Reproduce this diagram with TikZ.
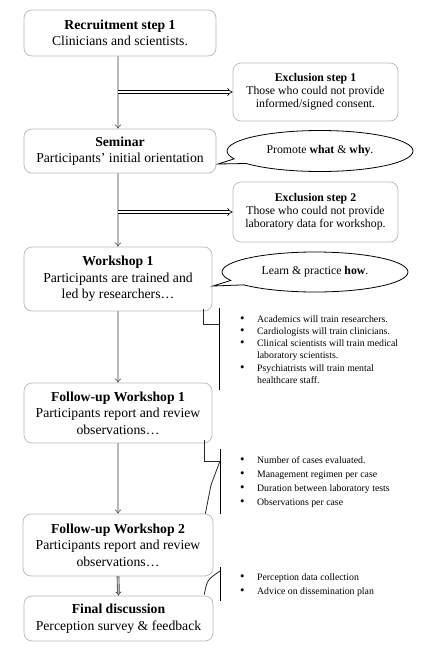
\documentclass[tikz,border=0pt]{standalone}
\usepackage{fontspec}
\setmainfont{Liberation Serif}
\usepackage{tikz}
\usetikzlibrary{arrows.meta,calc,shapes.callouts}
\newcommand{\bodyfont}{\fontsize{13.7}{16.5}\selectfont}
\newcommand{\notefont}{\fontsize{11.8}{13}\selectfont}
\newcommand{\listfont}{\fontsize{9.8}{12.2}\selectfont}
\newcommand{\listfontwide}{\fontsize{9.8}{14}\selectfont}
\newcommand{\dotitem}{\scalebox{1.3}{\textbullet}}
\tikzset{
  stepbox/.style={draw=gray!55,line width=0.7pt,rounded corners=8pt,align=center,font=\bodyfont,inner sep=1pt},
  exclbox/.style={stepbox,font=\notefont},
  downarrow/.style={draw=gray!45!black,double=gray!55,double distance=1.4pt,line width=0.6pt,-{Implies}},
  sidearrow/.style={draw=black,double=white,double distance=2.2pt,line width=0.6pt,-{Implies}},
  talk/.style={ellipse callout,draw,line width=0.8pt,font=\notefont,inner sep=0pt},
  bartick/.style={draw=gray!30!black,line width=0.8pt},
  bar/.style={draw=black,line width=0.8pt},
  bullets/.style={anchor=north west,inner sep=0pt}
}
\begin{document}
\begin{tikzpicture}[x=1pt,y=-1pt]
\useasboundingbox[fill=white] (0,0) rectangle (429,651);

% Main steps
\node[stepbox,minimum width=192,minimum height=46] (rec) at (120,33)
  {\textbf{Recruitment step 1}\\Clinicians and scientists.};
\node[stepbox,minimum width=192,minimum height=44] (sem) at (120,151)
  {\textbf{Seminar}\\Participants' initial orientation};
\node[stepbox,minimum width=188,minimum height=64] (ws1) at (118,279)
  {\textbf{Workshop 1}\\Participants are trained and\\led by researchers\ldots};
\node[stepbox,minimum width=188,minimum height=60] (fu1) at (118,413)
  {\textbf{Follow-up Workshop 1}\\Participants report and review\\observations\ldots};
\node[stepbox,minimum width=190,minimum height=62] (fu2) at (118,545)
  {\textbf{Follow-up Workshop 2}\\Participants report and review\\observations\ldots};
\node[stepbox,minimum width=189,minimum height=45] (fin) at (118.5,618.5)
  {\textbf{Final discussion}\\Perception survey \& feedback};

% Exclusions
\node[exclbox,minimum width=165,minimum height=58] (ex1) at (315.5,92)
  {\textbf{Exclusion step 1}\\Those who could not provide\\informed/signed consent.};
\node[exclbox,minimum width=165,minimum height=60] (ex2) at (315.5,212)
  {\textbf{Exclusion step 2}\\Those who could not provide\\laboratory data for workshop.};

% Flow
\draw[downarrow] (rec.south -| ws1) -- (sem.north -| ws1);
\draw[downarrow] (sem.south -| ws1) -- (ws1.north);
\draw[downarrow] (ws1.south) -- (fu1.north);
\draw[downarrow] (fu1.south) -- (fu2.north);
\draw[downarrow] (fu2.south) -- (fin.north);
\draw[sidearrow] (ex1.west -| ws1) -- (ex1.west);
\draw[sidearrow] (ex2.west -| ws1) -- (ex2.west);

% Callouts
\node[talk,minimum width=186,minimum height=41,callout absolute pointer={(218,164)}] (why) at (320,151)
  {Promote \textbf{what} \& \textbf{why}.};
\node[talk,minimum width=186,minimum height=40,callout absolute pointer={(213,286)}] (how) at (315,272)
  {Learn \& practice \textbf{how}.};

% Bullet lists
\node[bullets,font=\listfont] (lst1) at (240,313.5) {\begin{tabular}{@{}l@{\hspace{12.5pt}}l@{}}
\dotitem & Academics will train researchers.\\
\dotitem & Cardiologists will train clinicians.\\
\dotitem & Clinical scientists will train medical\\
 & laboratory scientists.\\
\dotitem & Psychiatrists will train mental\\
 & healthcare staff.
\end{tabular}};
\node[bullets,font=\listfontwide] (lst2) at (240,453.2) {\begin{tabular}{@{}l@{\hspace{12.5pt}}l@{}}
\dotitem & Number of cases evaluated.\\
\dotitem & Management regimen per case\\
\dotitem & Duration between laboratory tests\\
\dotitem & Observations per case
\end{tabular}};
\node[bullets,font=\listfontwide] (lst3) at (240,570.2) {\begin{tabular}{@{}l@{\hspace{12.5pt}}l@{}}
\dotitem & Perception data collection\\
\dotitem & Advice on dissemination plan
\end{tabular}};

% Brackets
\coordinate (b1t) at (219,308);
\coordinate (b1m) at (219,324);
\coordinate (b1b) at (219,390);
\draw[bar] (b1t) -- (b1b);
\draw[bartick] ($(ws1.south east)+(-9,-2)$) |- (b1m);

\coordinate (b2t) at (220,449);
\coordinate (b2m) at (220,461);
\coordinate (b2b) at (220,514);
\draw[bar] (b2t) -- (b2b);
\draw[bartick] ($(fu1.south east)+(-8,-3)$) |- (b2m);
\draw[bartick] (b2m) -- (211,485) -- ($(fu2.north east)+(-8,0)$);

\coordinate (b3t) at (220,567);
\coordinate (b3m) at (220,571);
\coordinate (b3b) at (220,601);
\draw[bar] (b3t) -- (b3b);
\draw[bartick] (b3m) .. controls (207,580) .. ($(fin.north east)+(-9,-1)$);

\end{tikzpicture}
\end{document}
